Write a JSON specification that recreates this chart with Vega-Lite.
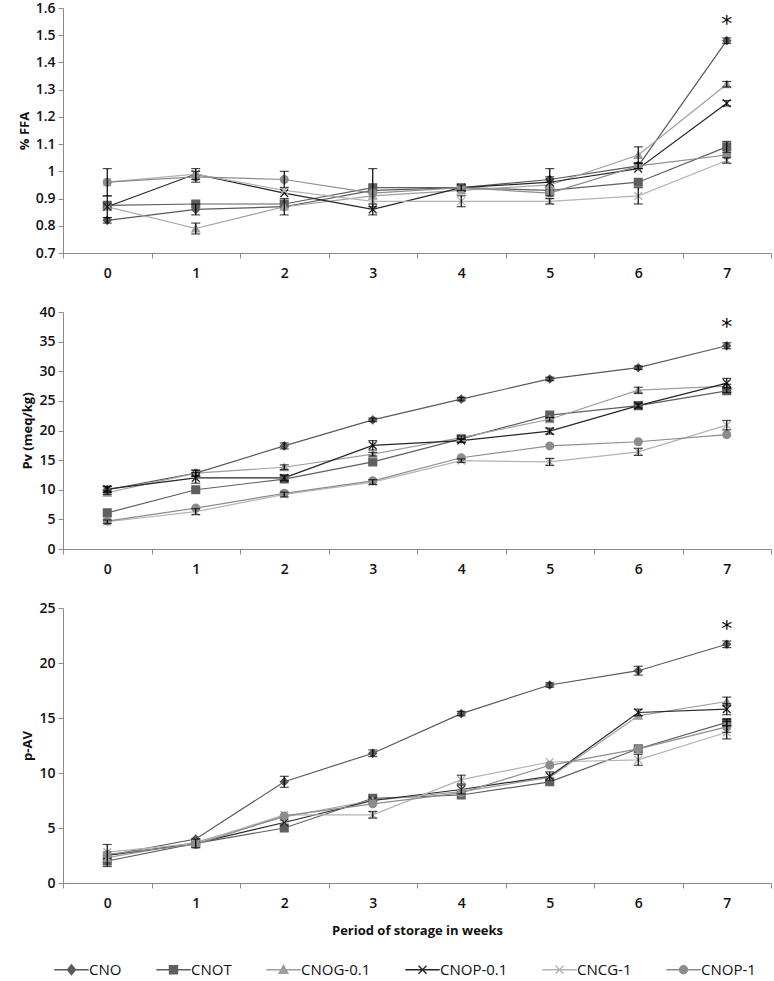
{
"$schema":"https://vega.github.io/schema/vega-lite/v6.json",
"background":"white",
"padding":{"left":18,"top":1,"right":0,"bottom":0},
"config":{"view":{"stroke":null},"font":"Open Sans",
"axis":{"domainColor":"#8a8a8a","tickColor":"#8a8a8a","labelFont":"Open Sans","labelFontSize":14,"labelColor":"#111","labelFontWeight":600,"titleFont":"Open Sans","titleFontSize":13,"titleFontWeight":"bold","titleColor":"#111","grid":false,"tickSize":5,"labelPadding":3,"titlePadding":4}},
"datasets":{
"ffa":[
{"s":"CNO","w":0,"v":0.82,"e":0.01},{"s":"CNO","w":1,"v":0.86,"e":0.02},{"s":"CNO","w":2,"v":0.87,"e":0.03},{"s":"CNO","w":3,"v":0.93,"e":0},{"s":"CNO","w":4,"v":0.94,"e":0.01},{"s":"CNO","w":5,"v":0.97,"e":0.01},{"s":"CNO","w":6,"v":1.02,"e":0.01},{"s":"CNO","w":7,"v":1.48,"e":0.01},
{"s":"CNOT","w":0,"v":0.875,"e":0},{"s":"CNOT","w":1,"v":0.88,"e":0},{"s":"CNOT","w":2,"v":0.88,"e":0},{"s":"CNOT","w":3,"v":0.94,"e":0.07},{"s":"CNOT","w":4,"v":0.94,"e":0},{"s":"CNOT","w":5,"v":0.93,"e":0},{"s":"CNOT","w":6,"v":0.96,"e":0},{"s":"CNOT","w":7,"v":1.09,"e":0.02},
{"s":"CNOG-0.1","w":0,"v":0.87,"e":0},{"s":"CNOG-0.1","w":1,"v":0.79,"e":0.02},{"s":"CNOG-0.1","w":2,"v":0.87,"e":0},{"s":"CNOG-0.1","w":3,"v":0.91,"e":0},{"s":"CNOG-0.1","w":4,"v":0.93,"e":0},{"s":"CNOG-0.1","w":5,"v":0.95,"e":0},{"s":"CNOG-0.1","w":6,"v":1.06,"e":0.03},{"s":"CNOG-0.1","w":7,"v":1.32,"e":0.01},
{"s":"CNOP-0.1","w":0,"v":0.87,"e":0.04},{"s":"CNOP-0.1","w":1,"v":0.99,"e":0.02},{"s":"CNOP-0.1","w":2,"v":0.92,"e":0},{"s":"CNOP-0.1","w":3,"v":0.86,"e":0.02},{"s":"CNOP-0.1","w":4,"v":0.94,"e":0},{"s":"CNOP-0.1","w":5,"v":0.96,"e":0.05},{"s":"CNOP-0.1","w":6,"v":1.01,"e":0},{"s":"CNOP-0.1","w":7,"v":1.25,"e":0.01},
{"s":"CNCG-1","w":0,"v":0.96,"e":0},{"s":"CNCG-1","w":1,"v":0.99,"e":0},{"s":"CNCG-1","w":2,"v":0.93,"e":0},{"s":"CNCG-1","w":3,"v":0.89,"e":0},{"s":"CNCG-1","w":4,"v":0.89,"e":0.02},{"s":"CNCG-1","w":5,"v":0.89,"e":0.01},{"s":"CNCG-1","w":6,"v":0.91,"e":0.03},{"s":"CNCG-1","w":7,"v":1.04,"e":0.01},
{"s":"CNOP-1","w":0,"v":0.96,"e":0.05},{"s":"CNOP-1","w":1,"v":0.98,"e":0.02},{"s":"CNOP-1","w":2,"v":0.97,"e":0.03},{"s":"CNOP-1","w":3,"v":0.92,"e":0},{"s":"CNOP-1","w":4,"v":0.94,"e":0},{"s":"CNOP-1","w":5,"v":0.92,"e":0},{"s":"CNOP-1","w":6,"v":1.02,"e":0.01},{"s":"CNOP-1","w":7,"v":1.06,"e":0}
],
"pv":[
{"s":"CNO","w":0,"v":10,"e":0.5},{"s":"CNO","w":1,"v":12.8,"e":0.5},{"s":"CNO","w":2,"v":17.4,"e":0.5},{"s":"CNO","w":3,"v":21.8,"e":0.3},{"s":"CNO","w":4,"v":25.3,"e":0.3},{"s":"CNO","w":5,"v":28.7,"e":0.3},{"s":"CNO","w":6,"v":30.6,"e":0.3},{"s":"CNO","w":7,"v":34.3,"e":0.5},
{"s":"CNOT","w":0,"v":6.1,"e":0},{"s":"CNOT","w":1,"v":10.0,"e":0},{"s":"CNOT","w":2,"v":11.8,"e":0},{"s":"CNOT","w":3,"v":14.7,"e":0},{"s":"CNOT","w":4,"v":18.6,"e":0},{"s":"CNOT","w":5,"v":22.6,"e":0},{"s":"CNOT","w":6,"v":24.2,"e":0},{"s":"CNOT","w":7,"v":26.7,"e":0.3},
{"s":"CNOG-0.1","w":0,"v":9.5,"e":0.3},{"s":"CNOG-0.1","w":1,"v":12.8,"e":0.5},{"s":"CNOG-0.1","w":2,"v":13.8,"e":0.4},{"s":"CNOG-0.1","w":3,"v":16.0,"e":0.3},{"s":"CNOG-0.1","w":4,"v":18.8,"e":0.3},{"s":"CNOG-0.1","w":5,"v":21.9,"e":0.3},{"s":"CNOG-0.1","w":6,"v":26.8,"e":0.5},{"s":"CNOG-0.1","w":7,"v":27.5,"e":0.3},
{"s":"CNOP-0.1","w":0,"v":10.1,"e":0.5},{"s":"CNOP-0.1","w":1,"v":12.0,"e":0.9},{"s":"CNOP-0.1","w":2,"v":12.0,"e":0.5},{"s":"CNOP-0.1","w":3,"v":17.5,"e":0.8},{"s":"CNOP-0.1","w":4,"v":18.3,"e":0.3},{"s":"CNOP-0.1","w":5,"v":19.9,"e":0.5},{"s":"CNOP-0.1","w":6,"v":24.2,"e":0.4},{"s":"CNOP-0.1","w":7,"v":28.0,"e":0.8},
{"s":"CNCG-1","w":0,"v":4.6,"e":0.3},{"s":"CNCG-1","w":1,"v":6.3,"e":0.5},{"s":"CNCG-1","w":2,"v":9.2,"e":0.4},{"s":"CNCG-1","w":3,"v":11.3,"e":0.4},{"s":"CNCG-1","w":4,"v":14.9,"e":0.3},{"s":"CNCG-1","w":5,"v":14.7,"e":0.6},{"s":"CNCG-1","w":6,"v":16.4,"e":0.6},{"s":"CNCG-1","w":7,"v":20.9,"e":0.8},
{"s":"CNOP-1","w":0,"v":4.7,"e":0},{"s":"CNOP-1","w":1,"v":6.9,"e":0},{"s":"CNOP-1","w":2,"v":9.4,"e":0},{"s":"CNOP-1","w":3,"v":11.5,"e":0},{"s":"CNOP-1","w":4,"v":15.4,"e":0},{"s":"CNOP-1","w":5,"v":17.4,"e":0},{"s":"CNOP-1","w":6,"v":18.1,"e":0},{"s":"CNOP-1","w":7,"v":19.3,"e":0}
],
"pav":[
{"s":"CNO","w":0,"v":2.5,"e":1.0},{"s":"CNO","w":1,"v":4.0,"e":0},{"s":"CNO","w":2,"v":9.2,"e":0.5},{"s":"CNO","w":3,"v":11.8,"e":0.3},{"s":"CNO","w":4,"v":15.4,"e":0.2},{"s":"CNO","w":5,"v":18.0,"e":0.2},{"s":"CNO","w":6,"v":19.3,"e":0.4},{"s":"CNO","w":7,"v":21.7,"e":0.3},
{"s":"CNOT","w":0,"v":2.0,"e":0},{"s":"CNOT","w":1,"v":3.6,"e":0},{"s":"CNOT","w":2,"v":5.0,"e":0},{"s":"CNOT","w":3,"v":7.7,"e":0},{"s":"CNOT","w":4,"v":8.0,"e":0},{"s":"CNOT","w":5,"v":9.2,"e":0},{"s":"CNOT","w":6,"v":12.2,"e":0},{"s":"CNOT","w":7,"v":14.6,"e":0.3},
{"s":"CNOG-0.1","w":0,"v":2.3,"e":0},{"s":"CNOG-0.1","w":1,"v":3.7,"e":0},{"s":"CNOG-0.1","w":2,"v":6.0,"e":0},{"s":"CNOG-0.1","w":3,"v":7.5,"e":0},{"s":"CNOG-0.1","w":4,"v":8.3,"e":0},{"s":"CNOG-0.1","w":5,"v":9.6,"e":0},{"s":"CNOG-0.1","w":6,"v":15.2,"e":0},{"s":"CNOG-0.1","w":7,"v":16.5,"e":0.4},
{"s":"CNOP-0.1","w":0,"v":2.5,"e":0},{"s":"CNOP-0.1","w":1,"v":3.6,"e":0.4},{"s":"CNOP-0.1","w":2,"v":5.5,"e":0},{"s":"CNOP-0.1","w":3,"v":7.5,"e":0},{"s":"CNOP-0.1","w":4,"v":8.5,"e":0.4},{"s":"CNOP-0.1","w":5,"v":9.7,"e":0.4},{"s":"CNOP-0.1","w":6,"v":15.5,"e":0.3},{"s":"CNOP-0.1","w":7,"v":15.8,"e":0.5},
{"s":"CNCG-1","w":0,"v":2.8,"e":0},{"s":"CNCG-1","w":1,"v":3.6,"e":0},{"s":"CNCG-1","w":2,"v":6.2,"e":0},{"s":"CNCG-1","w":3,"v":6.2,"e":0.3},{"s":"CNCG-1","w":4,"v":9.4,"e":0.4},{"s":"CNCG-1","w":5,"v":11.0,"e":0},{"s":"CNCG-1","w":6,"v":11.2,"e":0.5},{"s":"CNCG-1","w":7,"v":13.7,"e":0.6},
{"s":"CNOP-1","w":0,"v":2.6,"e":0},{"s":"CNOP-1","w":1,"v":3.5,"e":0},{"s":"CNOP-1","w":2,"v":6.1,"e":0},{"s":"CNOP-1","w":3,"v":7.2,"e":0},{"s":"CNOP-1","w":4,"v":8.2,"e":0},{"s":"CNOP-1","w":5,"v":10.7,"e":0},{"s":"CNOP-1","w":6,"v":12.2,"e":0},{"s":"CNOP-1","w":7,"v":14.2,"e":0.5}
],
"stars":[{"p":"ffa","w":7,"v":1.54},{"p":"pv","w":7,"v":37.4},{"p":"pav","w":7,"v":23.1}],
"series":[{"s":"CNO"},{"s":"CNOT"},{"s":"CNOG-0.1"},{"s":"CNOP-0.1"},{"s":"CNCG-1"},{"s":"CNOP-1"}]
},
"spacing":25,
"resolve":{"scale":{"shape":"independent","color":"independent","stroke":"independent"},"legend":{"shape":"independent","color":"independent","stroke":"independent"}},
"vconcat":[
{
"width":708,"height":245,
"encoding":{"x":{"field":"w","type":"ordinal","scale":{"type":"band","paddingInner":0,"paddingOuter":0},"axis":{"title":null,"labelAngle":0,"tickBand":"extent","labelPadding":8}},
"y":{"field":"v","type":"quantitative","scale":{"domain":[0.7,1.6]},"axis":{"title":"% FFA","values":[0.7,0.8,0.9,1.0,1.1,1.2,1.3,1.4,1.5,1.6],"format":".1~f"}}},
"layer":[
{"data":{"name":"ffa"},"mark":{"type":"line","strokeWidth":1.2},"encoding":{"color":{"field":"s","type":"nominal","scale":{"domain":["CNO","CNOT","CNOG-0.1","CNOP-0.1","CNCG-1","CNOP-1"],"range":["#595959","#5f5f5f","#9e9e9e","#262626","#b3b3b3","#8c8c8c"]},"legend":null}}},
{"data":{"name":"ffa"},"mark":{"type":"point","filled":true,"opacity":1,"size":60,"strokeWidth":1.3},"encoding":{"color":{"field":"s","type":"nominal","legend":null},"stroke":{"field":"s","type":"nominal","scale":{"domain":["CNO","CNOT","CNOG-0.1","CNOP-0.1","CNCG-1","CNOP-1"],"range":["#595959","#5f5f5f","#9e9e9e","#262626","#b3b3b3","#8c8c8c"]},"legend":null},"shape":{"field":"s","type":"nominal","scale":{"domain":["CNO","CNOT","CNOG-0.1","CNOP-0.1","CNCG-1","CNOP-1"],"range":["diamond","square","triangle-up","M-1,-1L1,1M-1,1L1,-1","M-1,-1L1,1M-1,1L1,-1","circle"]},"legend":null}}},
{"data":{"name":"ffa"},"transform":[{"filter":"datum.e > 0"}],"mark":{"type":"errorbar","ticks":{"size":9,"color":"#000"},"rule":{"color":"#000"},"thickness":1.2},"encoding":{"yError":{"field":"e"}}},
{"data":{"name":"stars"},"transform":[{"filter":"datum.p == 'ffa'"}],"mark":{"type":"text","text":"*","fontSize":22,"font":"DejaVu Sans","color":"#000","baseline":"middle"}}
]
},
{
"width":708,"height":237,
"encoding":{"x":{"field":"w","type":"ordinal","scale":{"type":"band","paddingInner":0,"paddingOuter":0},"axis":{"title":null,"labelAngle":0,"tickBand":"extent","labelPadding":8}},
"y":{"field":"v","type":"quantitative","scale":{"domain":[0,40]},"axis":{"title":"Pv (meq/kg)","values":[0,5,10,15,20,25,30,35,40]}}},
"layer":[
{"data":{"name":"pv"},"mark":{"type":"line","strokeWidth":1.2},"encoding":{"color":{"field":"s","type":"nominal","scale":{"domain":["CNO","CNOT","CNOG-0.1","CNOP-0.1","CNCG-1","CNOP-1"],"range":["#595959","#5f5f5f","#9e9e9e","#262626","#b3b3b3","#8c8c8c"]},"legend":null}}},
{"data":{"name":"pv"},"mark":{"type":"point","filled":true,"opacity":1,"size":60,"strokeWidth":1.3},"encoding":{"color":{"field":"s","type":"nominal","legend":null},"stroke":{"field":"s","type":"nominal","scale":{"domain":["CNO","CNOT","CNOG-0.1","CNOP-0.1","CNCG-1","CNOP-1"],"range":["#595959","#5f5f5f","#9e9e9e","#262626","#b3b3b3","#8c8c8c"]},"legend":null},"shape":{"field":"s","type":"nominal","scale":{"domain":["CNO","CNOT","CNOG-0.1","CNOP-0.1","CNCG-1","CNOP-1"],"range":["diamond","square","triangle-up","M-1,-1L1,1M-1,1L1,-1","M-1,-1L1,1M-1,1L1,-1","circle"]},"legend":null}}},
{"data":{"name":"pv"},"transform":[{"filter":"datum.e > 0"}],"mark":{"type":"errorbar","ticks":{"size":9,"color":"#000"},"rule":{"color":"#000"},"thickness":1.2},"encoding":{"yError":{"field":"e"}}},
{"data":{"name":"stars"},"transform":[{"filter":"datum.p == 'pv'"}],"mark":{"type":"text","text":"*","fontSize":22,"font":"DejaVu Sans","color":"#000","baseline":"middle"}}
]
},
{
"width":708,"height":275,
"encoding":{"x":{"field":"w","type":"ordinal","scale":{"type":"band","paddingInner":0,"paddingOuter":0},"axis":{"title":"Period of storage in weeks","labelAngle":0,"tickBand":"extent","labelPadding":8,"titlePadding":14}},
"y":{"field":"v","type":"quantitative","scale":{"domain":[0,25]},"axis":{"title":"p-AV","values":[0,5,10,15,20,25]}}},
"layer":[
{"data":{"name":"pav"},"mark":{"type":"line","strokeWidth":1.2},"encoding":{"color":{"field":"s","type":"nominal","scale":{"domain":["CNO","CNOT","CNOG-0.1","CNOP-0.1","CNCG-1","CNOP-1"],"range":["#595959","#5f5f5f","#9e9e9e","#262626","#b3b3b3","#8c8c8c"]},"legend":null}}},
{"data":{"name":"pav"},"mark":{"type":"point","filled":true,"opacity":1,"size":60,"strokeWidth":1.3},"encoding":{"color":{"field":"s","type":"nominal","legend":null},"stroke":{"field":"s","type":"nominal","scale":{"domain":["CNO","CNOT","CNOG-0.1","CNOP-0.1","CNCG-1","CNOP-1"],"range":["#595959","#5f5f5f","#9e9e9e","#262626","#b3b3b3","#8c8c8c"]},"legend":null},"shape":{"field":"s","type":"nominal","scale":{"domain":["CNO","CNOT","CNOG-0.1","CNOP-0.1","CNCG-1","CNOP-1"],"range":["diamond","square","triangle-up","M-1,-1L1,1M-1,1L1,-1","M-1,-1L1,1M-1,1L1,-1","circle"]},"legend":null}}},
{"data":{"name":"pav"},"transform":[{"filter":"datum.e > 0"}],"mark":{"type":"errorbar","ticks":{"size":9,"color":"#000"},"rule":{"color":"#000"},"thickness":1.2},"encoding":{"yError":{"field":"e"}}},
{"data":{"name":"stars"},"transform":[{"filter":"datum.p == 'pav'"}],"mark":{"type":"text","text":"*","fontSize":22,"font":"DejaVu Sans","color":"#000","baseline":"middle"}}
]
},
{
"width":708,"height":4,
"data":{"name":"series"},
"mark":{"type":"point","filled":true,"opacity":0,"size":1},
"encoding":{
"color":{"field":"s","type":"nominal","scale":{"domain":["CNO","CNOT","CNOG-0.1","CNOP-0.1","CNCG-1","CNOP-1"],"range":["#595959","#5f5f5f","#9e9e9e","#262626","#b3b3b3","#8c8c8c"]},"legend":{"orient":"none","legendX":1,"legendY":-2,"direction":"horizontal","title":null,"symbolSize":64,"symbolOpacity":1,"symbolStrokeWidth":1.4,"labelOffset":10,"columnPadding":31,"labelFont":"Open Sans","labelFontSize":15,"labelColor":"#111"}},
"stroke":{"field":"s","type":"nominal","scale":{"domain":["CNO","CNOT","CNOG-0.1","CNOP-0.1","CNCG-1","CNOP-1"],"range":["#595959","#5f5f5f","#9e9e9e","#262626","#b3b3b3","#8c8c8c"]},"legend":{"orient":"none","legendX":1,"legendY":-2,"direction":"horizontal","title":null,"symbolSize":64,"symbolOpacity":1,"symbolStrokeWidth":1.4,"labelOffset":10,"columnPadding":31,"labelFont":"Open Sans","labelFontSize":15,"labelColor":"#111"}},
"shape":{"field":"s","type":"nominal","scale":{"domain":["CNO","CNOT","CNOG-0.1","CNOP-0.1","CNCG-1","CNOP-1"],"range":["M-4.3,0L4.3,0M0,-1.2L1,0L0,1.2L-1,0Z","M-4.3,0L4.3,0M-1,-1L1,-1L1,1L-1,1Z","M-4.3,0L4.3,0M0,-1.1L1.1,0.9L-1.1,0.9Z","M-4.3,0L4.3,0M-1,-1L1,1M-1,1L1,-1","M-4.3,0L4.3,0M-1,-1L1,1M-1,1L1,-1","M-4.3,0L4.3,0M1,0A1,1,0,1,1,-1,0A1,1,0,1,1,1,0Z"]},"legend":{"orient":"none","legendX":1,"legendY":-2,"direction":"horizontal","title":null,"symbolSize":64,"symbolOpacity":1,"symbolStrokeWidth":1.4,"labelOffset":10,"columnPadding":31,"labelFont":"Open Sans","labelFontSize":15,"labelColor":"#111"}}
}
}
]
}
